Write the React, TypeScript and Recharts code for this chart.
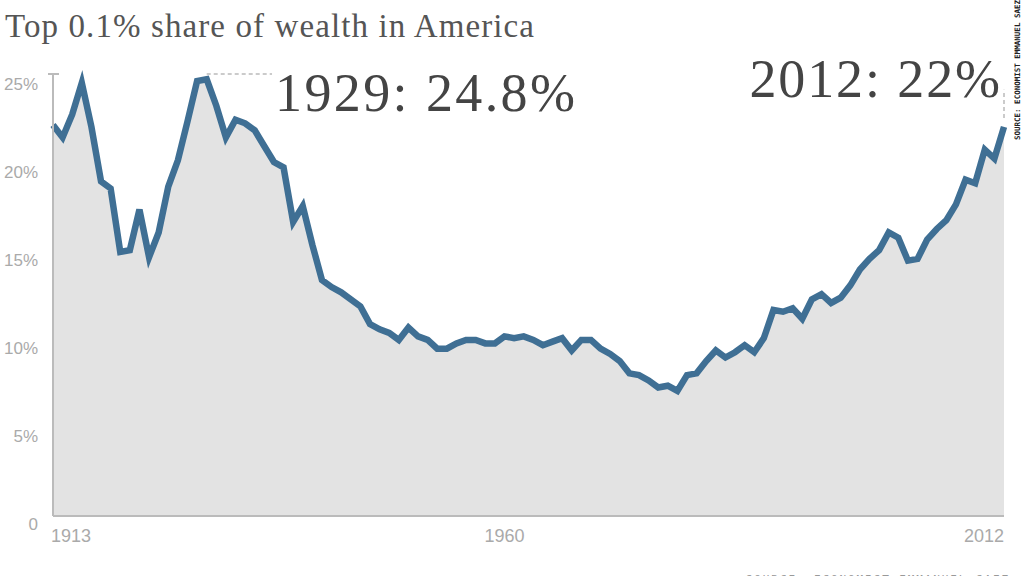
import React from 'react';
import { ComposedChart, Area, XAxis, YAxis, ReferenceLine } from 'recharts';

// Top 0.1% wealth share, percent, one point per year 1913-2012
const years = [
  1913, 1914, 1915, 1916, 1917, 1918, 1919, 1920, 1921, 1922,
  1923, 1924, 1925, 1926, 1927, 1928, 1929, 1930, 1931, 1932,
  1933, 1934, 1935, 1936, 1937, 1938, 1939, 1940, 1941, 1942,
  1943, 1944, 1945, 1946, 1947, 1948, 1949, 1950, 1951, 1952,
  1953, 1954, 1955, 1956, 1957, 1958, 1959, 1960, 1961, 1962,
  1963, 1964, 1965, 1966, 1967, 1968, 1969, 1970, 1971, 1972,
  1973, 1974, 1975, 1976, 1977, 1978, 1979, 1980, 1981, 1982,
  1983, 1984, 1985, 1986, 1987, 1988, 1989, 1990, 1991, 1992,
  1993, 1994, 1995, 1996, 1997, 1998, 1999, 2000, 2001, 2002,
  2003, 2004, 2005, 2006, 2007, 2008, 2009, 2010, 2011, 2012,
];

const shares = [
  22.2, 21.5, 22.8, 24.6, 22.1, 19.0, 18.6, 15.0, 15.1, 17.4,
  14.7, 16.1, 18.7, 20.2, 22.4, 24.7, 24.8, 23.3, 21.5, 22.5,
  22.3, 21.9, 21.0, 20.1, 19.8, 16.7, 17.6, 15.4, 13.4, 13.0,
  12.7, 12.3, 11.9, 10.9, 10.6, 10.4, 10.0, 10.7, 10.2, 10.0,
  9.5, 9.5, 9.8, 10.0, 10.0, 9.8, 9.8, 10.2, 10.1, 10.2,
  10.0, 9.7, 9.9, 10.1, 9.4, 10.0, 10.0, 9.5, 9.2, 8.8,
  8.1, 8.0, 7.7, 7.3, 7.4, 7.1, 8.0, 8.1, 8.8, 9.4,
  9.0, 9.3, 9.7, 9.3, 10.1, 11.7, 11.6, 11.8, 11.2, 12.3,
  12.6, 12.1, 12.4, 13.1, 14.0, 14.6, 15.1, 16.1, 15.8, 14.5,
  14.6, 15.7, 16.3, 16.8, 17.7, 19.1, 18.9, 20.8, 20.3, 22.1,
];

const yTicks = [0, 5, 10, 15, 20, 25];
const xTicks = [1913, 1960, 2012];

const data = years.map((year, i) => ({ year, share: shares[i] }));

const tickFont = '"Liberation Sans Narrow", "Arial Narrow", sans-serif';
const serif = '"Liberation Serif", "DejaVu Serif", serif';

const YTick = (props: any) => {
  const { x, y, payload } = props;
  return (
    <text x={x} y={y + 14} textAnchor="end" fill="#aaa" fontSize={17} fontFamily={tickFont}>
      {payload.value === 0 ? '0' : `${payload.value}%`}
    </text>
  );
};

const XTick = (props: any) => {
  const { x, y, payload } = props;
  const anchor = payload.value === 1913 ? 'start' : payload.value === 2012 ? 'end' : 'middle';
  const dx = payload.value === 1913 ? -2 : 0;
  return (
    <text x={x + dx} y={y + 26} textAnchor={anchor} fill="#aaa" fontSize={18} fontFamily={tickFont}>
      {payload.value}
    </text>
  );
};

export default function App() {
  return (
    <div style={{ position: 'absolute', left: 0, top: 0, width: 1024, height: 576, overflow: 'hidden', background: '#fff' }}>
      <ComposedChart width={1024} height={576} data={data} margin={{ top: 74, right: 20, bottom: 30, left: 8 }}>
        <XAxis
          dataKey="year"
          type="number"
          domain={[1913, 2012]}
          ticks={xTicks}
          tickLine={false}
          tickSize={0}
          tickMargin={0}
          height={30}
          axisLine={{ stroke: '#bbb', strokeWidth: 2 }}
          tick={<XTick />}
        />
        <YAxis
          type="number"
          domain={[0, 25.1]}
          ticks={yTicks}
          width={45}
          tickLine={false}
          tickSize={0}
          tickMargin={15}
          axisLine={{ stroke: '#bbb', strokeWidth: 2 }}
          tick={<YTick />}
        />
        <Area
          type="linear"
          dataKey="share"
          stroke="#3f6f94"
          strokeWidth={6.5}
          fill="#e3e3e3"
          fillOpacity={1}
          dot={false}
          activeDot={false}
          isAnimationActive={false}
        />
        <ReferenceLine
          segment={[{ x: 1929, y: 25.1 }, { x: 1935.8, y: 25.1 }]}
          stroke="#bbb"
          strokeWidth={1.5}
          strokeDasharray="4 3"
        />
        <ReferenceLine
          segment={[{ x: 2012, y: 22.6 }, { x: 2012, y: 24.2 }]}
          stroke="#bbb"
          strokeWidth={1.5}
          strokeDasharray="4 3"
        />
      </ComposedChart>
      <svg width={1024} height={576} style={{ position: 'absolute', left: 0, top: 0, pointerEvents: 'none' }}>
        <line x1={48} y1={74} x2={59} y2={74} stroke="#bbb" strokeWidth={2} />
        <text x={5} y={37} fontFamily={serif} fontSize={33} letterSpacing={1.1} fill="#555">
          Top 0.1% share of wealth in America
        </text>
        <text x={275} y={111} fontFamily={serif} fontSize={54} letterSpacing={2.4} fill="#444">
          1929: 24.8%
        </text>
        <text x={1002} y={97} textAnchor="end" fontFamily={serif} fontSize={54} letterSpacing={1.9} fill="#444">
          2012: 22%
        </text>
        <text
          x={1020}
          y={140}
          transform="rotate(-90 1020 140)"
          fontFamily='"DejaVu Sans Mono", monospace'
          fontSize={7.5}
          fontWeight="bold"
          fill="#222"
        >
          SOURCE: ECONOMIST EMMANUEL SAEZ
        </text>
        <text
          x={1010}
          y={583}
          textAnchor="end"
          fontFamily='"DejaVu Sans Mono", monospace'
          fontSize={11}
          letterSpacing={1.9}
          fill="#999"
        >
          SOURCE: ECONOMIST EMMANUEL SAEZ
        </text>
      </svg>
    </div>
  );
}
